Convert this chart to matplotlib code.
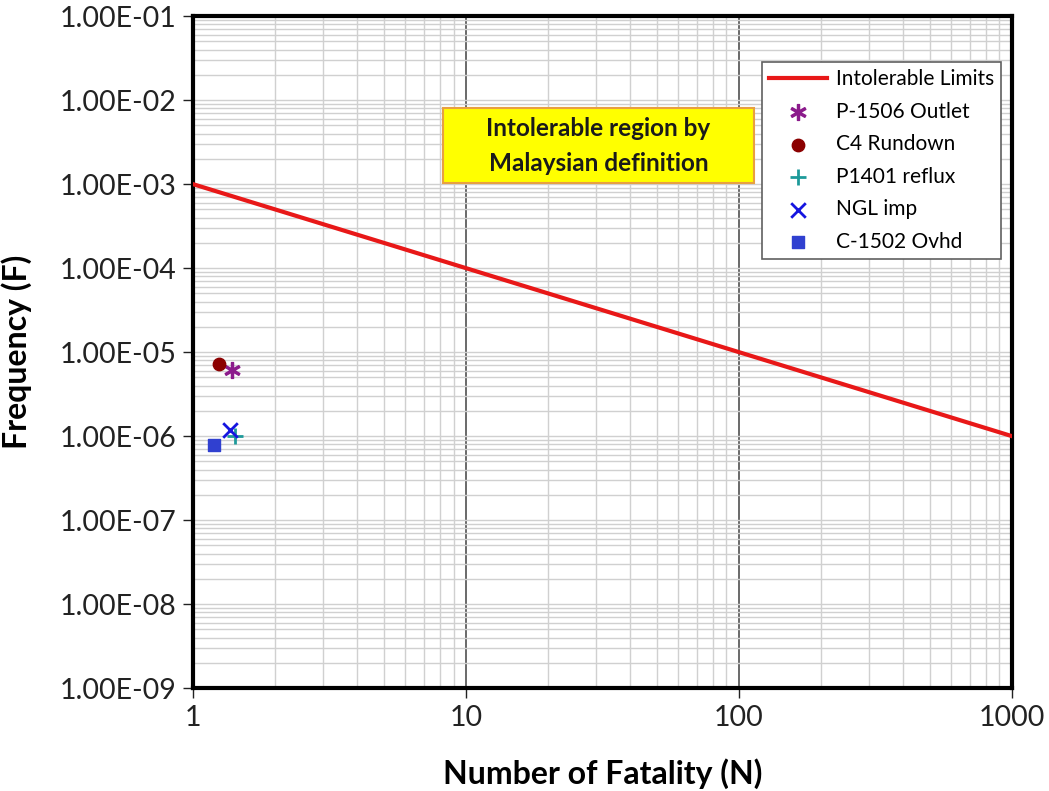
import matplotlib
matplotlib.use("Agg")
import matplotlib.pyplot as plt
from matplotlib.patches import Rectangle
from matplotlib.ticker import FixedLocator, LogLocator, NullFormatter, FuncFormatter

plt.rcParams["font.family"] = ["Lato", "DejaVu Sans"]

# intolerable limit line (N, F)
limit_n = [1, 1000]
limit_f = [1e-3, 1e-6]

# scenario points
scenarios = ["P-1506 Outlet", "C4 Rundown", "P1401 reflux", "NGL imp", "C-1502 Ovhd"]
scen_n = [1.39, 1.25, 1.43, 1.37, 1.19]
scen_f = [6.1e-6, 7.2e-6, 1.0e-6, 1.18e-6, 7.8e-7]
markers = ["$\u2217$", "o", "+", "x", "s"]
colors = ["#8B1A8B", "#8B0000", "#1E9A9A", "#1515E0", "#3040D0"]
sizes = [130, 80, 130, 110, 70]

x_ticks = [1, 10, 100, 1000]
y_ticks = [1e-9, 1e-8, 1e-7, 1e-6, 1e-5, 1e-4, 1e-3, 1e-2, 1e-1]

fig = plt.figure(figsize=(10.49, 7.91), dpi=100)
ax = fig.add_axes([0.184, 0.130, 0.7807, 0.8496])
ax.set_xscale("log")
ax.set_yscale("log")
ax.set_xlim(1, 1000)
ax.set_ylim(1e-9, 1e-1)

ax.xaxis.set_major_locator(FixedLocator(x_ticks))
ax.yaxis.set_major_locator(FixedLocator(y_ticks))
ax.xaxis.set_minor_locator(LogLocator(base=10, subs=range(2, 10)))
ax.yaxis.set_minor_locator(LogLocator(base=10, subs=range(2, 10), numticks=20))
ax.xaxis.set_minor_formatter(NullFormatter())
ax.yaxis.set_minor_formatter(NullFormatter())
ax.xaxis.set_major_formatter(FuncFormatter(lambda v, p: f"{v:g}"))
ax.yaxis.set_major_formatter(FuncFormatter(lambda v, p: f"{v:.2E}"))

ax.grid(True, which="minor", color="#D0D0D0", linewidth=1.0)
ax.grid(True, which="major", axis="y", color="#D0D0D0", linewidth=1.0)
ax.grid(True, which="major", axis="x", color="#505050", linewidth=1.2)
ax.set_axisbelow(True)

for s in ax.spines.values():
    s.set_linewidth(3)
    s.set_color("black")

ax.tick_params(which="major", direction="out", length=7, width=1, labelsize=20.5,
               colors="#222222", pad=5)
ax.tick_params(which="minor", length=0)

ax.plot(limit_n, limit_f, color="#E81818", linewidth=3, label="Intolerable Limits", zorder=3)
for name, n, f, m, c, sz in zip(scenarios, scen_n, scen_f, markers, colors, sizes):
    lw = 2 if m in ("+", "x") else 1
    ax.scatter([n], [f], marker=m, color=c, s=sz, linewidths=lw, label=name, zorder=4)

leg = ax.legend(loc="upper right", bbox_to_anchor=(0.987, 0.932), fontsize=15,
                frameon=True, fancybox=False, edgecolor="#606060", framealpha=1,
                borderpad=0.35, labelspacing=0.6, handlelength=2.8, handletextpad=0.4,
                borderaxespad=0)
leg.get_frame().set_linewidth(1.2)

# yellow annotation box
ax.add_patch(Rectangle((0.305, 0.7515), 0.38, 0.1115, transform=ax.transAxes,
                       facecolor="#FFFF00", edgecolor="#E8A040", linewidth=1.5, zorder=5))
ax.text(0.495, 0.807, "Intolerable region by\nMalaysian definition", transform=ax.transAxes,
        ha="center", va="center", fontsize=17.5, fontweight="bold", color="#1A1A1A",
        linespacing=1.65, zorder=6)

ax.set_xlabel("Number of Fatality (N)", fontsize=23, fontweight="bold", labelpad=20)
ax.set_ylabel("Frequency (F)", fontsize=23, fontweight="bold", labelpad=20)

fig.savefig("out.png", dpi=100, facecolor="white")
